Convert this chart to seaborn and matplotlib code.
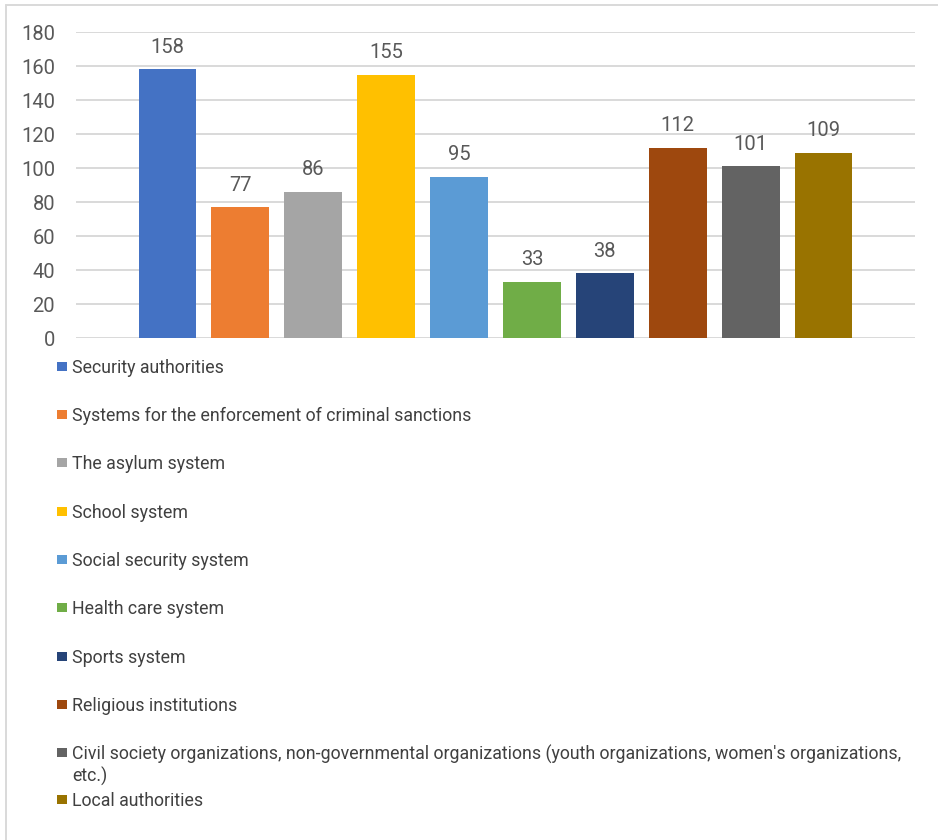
import matplotlib
matplotlib.use("Agg")
import matplotlib.pyplot as plt
from matplotlib.patches import Rectangle
from matplotlib.lines import Line2D
import seaborn as sns
import pandas as pd

# Institutions and number of mentions
series = [
    "Security authorities",
    "Systems for the enforcement of criminal sanctions",
    "The asylum system",
    "School system",
    "Social security system",
    "Health care system",
    "Sports system",
    "Religious institutions",
    "Civil society organizations, non-governmental organizations (youth organizations, women's organizations,\netc.)",
    "Local authorities",
]
values = [158, 77, 86, 155, 95, 33, 38, 112, 101, 109]
colors = ["#4472C4", "#ED7D31", "#A5A5A5", "#FFC000", "#5B9BD5",
          "#70AD47", "#264478", "#9E480E", "#636363", "#997300"]
y_ticks = [0, 20, 40, 60, 80, 100, 120, 140, 160, 180]

df = pd.DataFrame({"group": [""] * len(series), "series": series, "value": values})

W, H = 938, 840
sns.set_theme(style="white")
plt.rcParams["font.family"] = ["Roboto", "DejaVu Sans"]

fig = plt.figure(figsize=(W / 100, H / 100), dpi=100)
ax = fig.add_axes([76 / W, 1 - 338 / H, (915 - 76) / W, (338 - 32) / H])

sns.barplot(data=df, x="group", y="value", hue="series", hue_order=series,
            palette=colors, width=0.8, gap=0.205, dodge=True, legend=False,
            saturation=1, errorbar=None, ax=ax, linewidth=0)

ax.set_xlim(-0.4604, 0.4604)
ax.set_ylim(0, 180)
ax.set_yticks(y_ticks)
ax.set_xticks([])
ax.set_xlabel("")
ax.set_ylabel("")
ax.grid(axis="y", color="#D9D9D9", linewidth=1.4)
ax.set_axisbelow(True)
for s in ax.spines.values():
    s.set_visible(False)
ax.tick_params(axis="y", length=0, pad=15, labelsize=14.5, labelcolor="#595959")

for cont in ax.containers:
    ax.bar_label(cont, fmt="%d", padding=9, fontsize=14.5, color="#595959")

# Legend: one entry per line below the plot area (y = centre of first text line)
text_y = [366, 414, 462, 511, 559, 607, 656, 704, 752, 799]
line_step = 22
for name, col, ty in zip(series, colors, text_y):
    fig.add_artist(Rectangle((57 / W, 1 - (ty + 5) / H), 9.5 / W, 9.5 / H,
                             transform=fig.transFigure, facecolor=col,
                             edgecolor="none"))
    for i, line in enumerate(name.split("\n")):
        fig.text(72 / W, 1 - (ty + i * line_step) / H, line, fontsize=12.8,
                 color="#404040", va="center_baseline", ha="left")

# Chart frame
fig.add_artist(Line2D([6 / W, 6 / W], [1 - 5 / H, 0], transform=fig.transFigure,
                      color="#D9D9D9", linewidth=1.4))
fig.add_artist(Line2D([6 / W, 1], [1 - 5 / H, 1 - 5 / H], transform=fig.transFigure,
                      color="#D9D9D9", linewidth=1.4))

fig.savefig("out.png", dpi=100, facecolor="white")
